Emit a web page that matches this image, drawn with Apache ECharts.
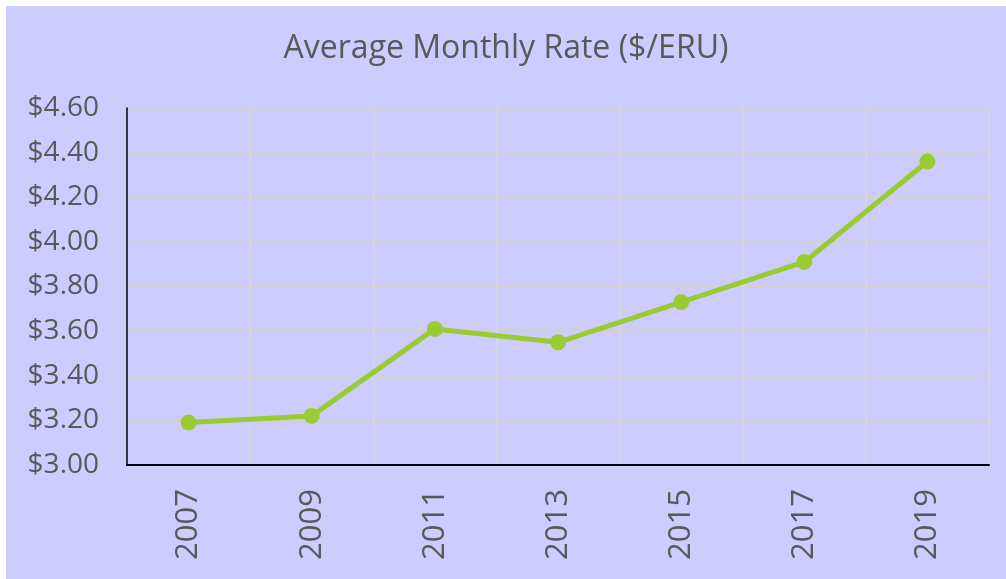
<!DOCTYPE html>
<html>
<head>
<meta charset="utf-8">
<script src="https://cdn.jsdelivr.net/npm/echarts@6/dist/echarts.min.js"></script>
<style>
  body { margin: 0; background: #ffffff; }
  #chart { position: absolute; left: 6px; top: 6px; width: 1000px; height: 573px; }
</style>
</head>
<body>
<div id="chart"></div>
<script>
// data
const years = ['2007', '2009', '2011', '2013', '2015', '2017', '2019']
const rates = [3.19, 3.22, 3.61, 3.55, 3.73, 3.91, 4.36]

const myChart = echarts.init(document.getElementById('chart'))

const option = {
  backgroundColor: '#CCCCFF',
  textStyle: { fontFamily: 'Open Sans, Liberation Sans, sans-serif' },
  title: {
    text: 'Average Monthly Rate ($/ERU)',
    left: 'center',
    top: 22,
    textStyle: { fontSize: 32, fontWeight: 'normal', color: '#595959' },
  },
  grid: { left: 121, right: 17, top: 102, bottom: 114 },
  xAxis: {
    type: 'category',
    data: years,
    boundaryGap: true,
    axisLine: { lineStyle: { color: '#000000', width: 2 } },
    axisTick: { show: false },
    axisLabel: { rotate: 90, fontSize: 31, color: '#595959', margin: 24 },
    splitLine: { show: true, lineStyle: { color: '#D9D9D9', width: 1.5 } },
  },
  yAxis: {
    type: 'value',
    min: 3,
    max: 4.6,
    interval: 0.2,
    axisLine: { show: true, lineStyle: { color: '#000000', width: 1.5 } },
    axisTick: { show: false },
    axisLabel: {
      fontSize: 28,
      color: '#595959',
      margin: 28,
      formatter: (v) => '$' + v.toFixed(2),
    },
    splitLine: { lineStyle: { color: '#D9D2B0', width: 1.5 } },
  },
  series: [
    {
      type: 'line',
      data: rates,
      symbol: 'circle',
      symbolSize: 16,
      lineStyle: { color: '#99CC33', width: 5 },
      itemStyle: { color: '#99CC33' },
      animation: false,
    },
  ],
}

myChart.setOption(option)
</script>
</body>
</html>
